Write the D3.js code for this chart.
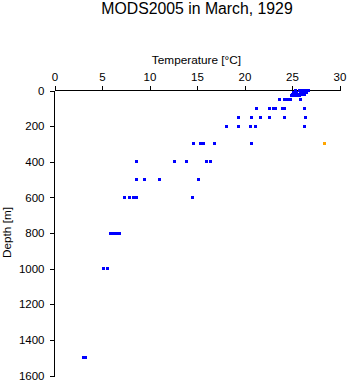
<!DOCTYPE html>
<html>
<head>
<meta charset="utf-8">
<script src="https://cdn.jsdelivr.net/npm/d3@7"></script>
<style>
  html, body { margin: 0; padding: 0; background: #fff; }
  svg { display: block; }
  text { font-family: "Liberation Sans", Arial, Helvetica, sans-serif; fill: #000; }
</style>
</head>
<body>
<svg id="chart" width="348" height="384"></svg>
<script>
// ---- data ----
const title = "MODS2005 in March, 1929";
const xLabel = "Temperature [\u00B0C]";
const yLabel = "Depth [m]";
const xTicks = [0, 5, 10, 15, 20, 25, 30];
const yTicks = [0, 200, 400, 600, 800, 1000, 1200, 1400, 1600];

// blue station points: temperature (°C) and depth (m)
const depths = [
  0, 0, 0, 0, 0,
  10, 10, 10, 10, 10,
  20, 20, 20, 20, 20,
  30, 30, 30, 30,
  50, 50, 50, 50, 50,
  100, 100, 100, 100, 100, 100, 100,
  150, 150, 150, 150, 150, 150,
  200, 200, 200, 200, 200,
  300, 300, 300, 300, 300,
  400, 400, 400, 400, 400,
  500, 500, 500, 500,
  600, 600, 600, 600, 600,
  800, 800, 800, 800,
  1000, 1000,
  1500, 1500
];
const temps = [
  25.4, 25.8, 26.1, 26.4, 26.7,
  25.2, 25.5, 25.9, 26.2, 26.5,
  25.0, 25.3, 25.6, 26.0, 26.3,
  24.9, 25.2, 25.5, 25.8,
  23.7, 24.2, 24.5, 24.8, 25.9,
  21.3, 22.6, 23.1, 23.3, 24.0, 24.2, 26.3,
  19.4, 20.7, 21.7, 22.6, 24.2, 26.4,
  18.1, 19.4, 20.6, 21.2, 26.3,
  14.6, 15.4, 15.7, 16.8, 20.7,
  8.6, 12.6, 13.9, 16.0, 16.4,
  8.6, 9.5, 11.0, 15.2,
  7.4, 7.9, 8.3, 8.6, 14.5,
  5.9, 6.2, 6.5, 6.8,
  5.2, 5.6,
  3.0, 3.3
];
// highlighted (orange) point
const highlightTemps = [28.4];
const highlightDepths = [300];

// ---- layout ----
const svg = d3.select("#chart");
const mLeft = 54, mRight = 339, mTop = 90, mBottom = 375;

const x = d3.scaleLinear().domain([0, 30]).range([mLeft, mRight]);
const y = d3.scaleLinear().domain([0, 1600]).range([mTop, mBottom]);

svg.append("text")
  .attr("x", 197).attr("y", 14)
  .attr("text-anchor", "middle")
  .style("font-size", "15.8px")
  .text(title);

const xAxis = svg.append("g")
  .attr("transform", `translate(0.5,${mTop + 0.5})`)
  .call(d3.axisTop(x).tickValues(xTicks).tickSize(5).tickPadding(5).tickFormat(d3.format("d")));
const yAxis = svg.append("g")
  .attr("transform", `translate(${mLeft + 0.5},0.5)`)
  .call(d3.axisLeft(y).tickValues(yTicks).tickSize(5).tickPadding(5).tickFormat(d3.format("d")));

[xAxis, yAxis].forEach(a => {
  a.attr("shape-rendering", "crispEdges");
  a.select(".domain").attr("stroke", "#000").attr("stroke-width", 1);
  a.selectAll(".tick line").attr("stroke", "#000").attr("stroke-width", 1);
  a.selectAll(".tick text").style("font-size", "11.5px")
    .style("font-family", '"Liberation Sans", Arial, sans-serif').attr("fill", "#000");
});
xAxis.select(".domain").attr("d", `M${mLeft},0H${mRight}`);
yAxis.select(".domain").attr("d", `M0,${mTop}V${mBottom}`);

svg.append("text")
  .attr("x", (mLeft + mRight) / 2).attr("y", 64)
  .attr("text-anchor", "middle")
  .style("font-size", "11.8px")
  .text(xLabel);

svg.append("text")
  .attr("transform", `translate(11,${(mTop + mBottom) / 2}) rotate(-90)`)
  .attr("text-anchor", "middle")
  .style("font-size", "11.8px")
  .text(yLabel);

const pts = temps.map((t, i) => ({ t, d: depths[i] }));
svg.append("g").attr("shape-rendering", "crispEdges")
  .selectAll("rect").data(pts).join("rect")
  .attr("x", p => Math.round(x(p.t)) - 1)
  .attr("y", p => Math.round(y(p.d)) - 1)
  .attr("width", 3).attr("height", 3)
  .attr("fill", "#0000ff");

const hp = highlightTemps.map((t, i) => ({ t, d: highlightDepths[i] }));
svg.append("g").attr("shape-rendering", "crispEdges")
  .selectAll("rect").data(hp).join("rect")
  .attr("x", p => Math.round(x(p.t)) - 1)
  .attr("y", p => Math.round(y(p.d)) - 1)
  .attr("width", 3).attr("height", 3)
  .attr("fill", "#ffa500");
</script>
</body>
</html>
